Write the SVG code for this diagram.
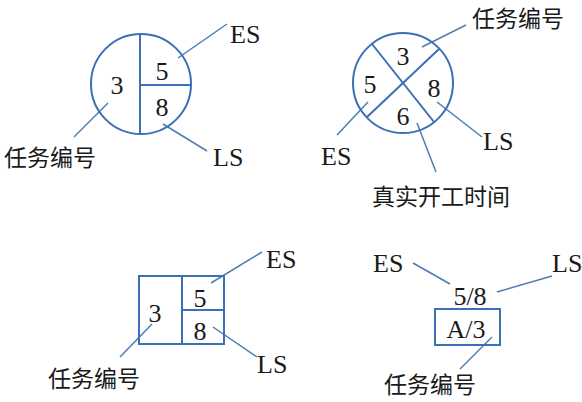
<svg xmlns="http://www.w3.org/2000/svg" width="582" height="402" viewBox="0 0 582 402">
<style>
.s{fill:none;stroke:#3b6fb6;stroke-width:2}
.l{fill:none;stroke:#4a7cb3;stroke-width:1.5}
.t{font-family:'Liberation Serif',serif;font-size:26px;fill:#1a1a1a}
.c{font-family:'Noto Sans CJK SC','Noto Sans CJK JP',sans-serif;font-size:23px;fill:#1a1a1a}
.m{text-anchor:middle}
</style>
<rect width="582" height="402" fill="#fff"/>
<g id="connectors">
<line class="l" x1="178" y1="58" x2="227" y2="24"/>
<line class="l" x1="163" y1="124" x2="207" y2="151"/>
<line class="l" x1="108" y1="103" x2="74" y2="137"/>
<line class="l" x1="422" y1="47" x2="466" y2="25"/>
<line class="l" x1="368" y1="102" x2="337" y2="135"/>
<line class="l" x1="437" y1="102" x2="482" y2="137"/>
<line class="l" x1="417" y1="123" x2="436" y2="172"/>
<line class="l" x1="211" y1="283" x2="262" y2="252"/>
<line class="l" x1="213" y1="327" x2="257" y2="357"/>
<line class="l" x1="152" y1="324" x2="120" y2="357"/>
<line class="l" x1="413" y1="263" x2="450" y2="284"/>
<line class="l" x1="497" y1="292" x2="552" y2="276"/>
<line class="l" x1="492" y1="337" x2="460" y2="369"/>
</g>
<g id="node1">
<circle class="s" cx="141" cy="84" r="50"/>
<line class="s" x1="140" y1="34" x2="140" y2="134"/>
<line class="s" x1="140" y1="85" x2="190" y2="85"/>
<text class="t m" x="117" y="94">3</text>
<text class="t m" x="162" y="80">5</text>
<text class="t m" x="162" y="116">8</text>
<text class="t" x="230" y="43">ES</text>
<text class="t" x="213" y="166">LS</text>
<text class="c" x="4" y="166">任务编号</text>
</g>
<g id="node2">
<circle class="s" cx="403" cy="83" r="50"/>
<line class="s" x1="372" y1="44" x2="434" y2="122"/>
<line class="s" x1="439" y1="49" x2="367" y2="117"/>
<text class="t m" x="403" y="65">3</text>
<text class="t m" x="370" y="93">5</text>
<text class="t m" x="434" y="97">8</text>
<text class="t m" x="403" y="125">6</text>
<text class="c" x="472" y="27">任务编号</text>
<text class="t" x="321" y="165">ES</text>
<text class="t" x="483" y="150">LS</text>
<text class="c" x="372" y="205">真实开工时间</text>
</g>
<g id="node3">
<rect class="s" x="139" y="276" width="85" height="68"/>
<line class="s" x1="182" y1="276" x2="182" y2="344"/>
<line class="s" x1="182" y1="310" x2="224" y2="310"/>
<text class="t m" x="155" y="322">3</text>
<text class="t m" x="200" y="307">5</text>
<text class="t m" x="200" y="340">8</text>
<text class="t" x="266" y="268">ES</text>
<text class="t" x="257" y="373">LS</text>
<text class="c" x="48" y="387">任务编号</text>
</g>
<g id="node4">
<rect class="s" x="435" y="309" width="65" height="36"/>
<text class="t m" x="470" y="305">5/8</text>
<text class="t m" x="466" y="338">A/3</text>
<text class="t" x="373" y="272">ES</text>
<text class="t" x="552" y="272">LS</text>
<text class="c" x="384" y="393">任务编号</text>
</g>
</svg>
